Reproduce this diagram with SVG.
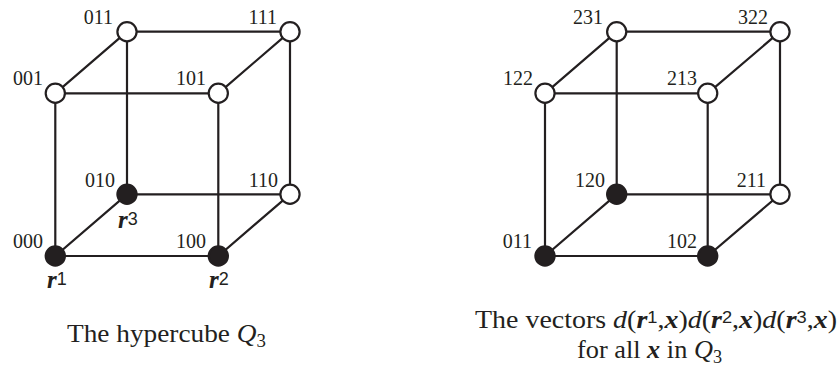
<svg xmlns="http://www.w3.org/2000/svg" width="839" height="369" viewBox="0 0 839 369">
<style>
.e{stroke:#231f20;stroke-width:2.2;fill:none}
.w{fill:#fff;stroke:#231f20;stroke-width:2.2}
.b{fill:#231f20;stroke:#231f20;stroke-width:2.2}
.l{font-family:"Liberation Serif","Times New Roman",serif;font-size:20px;fill:#231f20}
.r{font-family:"Liberation Serif","Times New Roman",serif;font-size:25px;font-weight:bold;font-style:italic;fill:#231f20}
.s{font-family:"Liberation Sans",Arial,sans-serif;font-size:18px;font-weight:normal;font-style:normal}
.c{font-family:"Liberation Serif","Times New Roman",serif;font-size:26px;fill:#231f20}
.i{font-style:italic}
.bi{font-style:italic;font-weight:bold}
.cs{font-family:"Liberation Sans",Arial,sans-serif;font-size:17px}
</style>
<defs>
<circle id="wn" r="9.6" class="w"/>
<circle id="bn" r="9.6" class="b"/>
</defs>
<g id="connectors">
<path class="e" d="M127,31.7H290M55.3,93.3H218.3M127,194.3H290M55.3,256H218.3M55.3,93.3V256M218.3,93.3V256M127,31.7V194.3M290,31.7V194.3M55.3,93.3L127,31.7M218.3,93.3L290,31.7M55.3,256L127,194.3M218.3,256L290,194.3"/>
<path class="e" d="M616.7,31.7H780M545,93.3H707.7M616.7,194.3H780M545,256H707.7M545,93.3V256M707.7,93.3V256M616.7,31.7V194.3M780,31.7V194.3M545,93.3L616.7,31.7M707.7,93.3L780,31.7M545,256L616.7,194.3M707.7,256L780,194.3"/>
</g>
<g id="n011"><use href="#wn" x="127" y="31.7"/><text class="l" x="113" y="24" text-anchor="end">011</text></g>
<g id="n111"><use href="#wn" x="290" y="31.7"/><text class="l" x="277" y="24" text-anchor="end">111</text></g>
<g id="n001"><use href="#wn" x="55.3" y="93.3"/><text class="l" x="43" y="85" text-anchor="end">001</text></g>
<g id="n101"><use href="#wn" x="218.3" y="93.3"/><text class="l" x="206" y="85" text-anchor="end">101</text></g>
<g id="n010"><use href="#bn" x="127" y="194.3"/><text class="l" x="115" y="187" text-anchor="end">010</text><text class="r" x="118" y="228">r<tspan class="s" dy="-3">3</tspan></text></g>
<g id="n110"><use href="#wn" x="290" y="194.3"/><text class="l" x="278" y="187" text-anchor="end">110</text></g>
<g id="n000"><use href="#bn" x="55.3" y="256"/><text class="l" x="43" y="248" text-anchor="end">000</text><text class="r" x="47" y="288">r<tspan class="s" dy="-3">1</tspan></text></g>
<g id="n100"><use href="#bn" x="218.3" y="256"/><text class="l" x="206" y="248" text-anchor="end">100</text><text class="r" x="209" y="288">r<tspan class="s" dy="-3">2</tspan></text></g>
<g id="m231"><use href="#wn" x="616.7" y="31.7"/><text class="l" x="603" y="24" text-anchor="end">231</text></g>
<g id="m322"><use href="#wn" x="780" y="31.7"/><text class="l" x="768" y="24" text-anchor="end">322</text></g>
<g id="m122"><use href="#wn" x="545" y="93.3"/><text class="l" x="533" y="85" text-anchor="end">122</text></g>
<g id="m213"><use href="#wn" x="707.7" y="93.3"/><text class="l" x="697" y="85" text-anchor="end">213</text></g>
<g id="m120"><use href="#bn" x="616.7" y="194.3"/><text class="l" x="605" y="187" text-anchor="end">120</text></g>
<g id="m211"><use href="#wn" x="780" y="194.3"/><text class="l" x="766" y="187" text-anchor="end">211</text></g>
<g id="m011"><use href="#bn" x="545" y="256"/><text class="l" x="532" y="248" text-anchor="end">011</text></g>
<g id="m102"><use href="#bn" x="707.7" y="256"/><text class="l" x="697" y="248" text-anchor="end">102</text></g>
<g id="captions">
<text class="c" x="67" y="342" textLength="199" lengthAdjust="spacingAndGlyphs">The hypercube <tspan class="i">Q</tspan><tspan font-size="18" dy="5">3</tspan></text>
<text class="c" x="475" y="328" textLength="362" lengthAdjust="spacingAndGlyphs">The vectors <tspan class="i">d</tspan>(<tspan class="bi">r</tspan><tspan class="cs" dy="-5">1</tspan><tspan dy="5">,</tspan><tspan class="bi">x</tspan>)<tspan class="i">d</tspan>(<tspan class="bi">r</tspan><tspan class="cs" dy="-5">2</tspan><tspan dy="5">,</tspan><tspan class="bi">x</tspan>)<tspan class="i">d</tspan>(<tspan class="bi">r</tspan><tspan class="cs" dy="-5">3</tspan><tspan dy="5">,</tspan><tspan class="bi">x</tspan>)</text>
<text class="c" x="577" y="358" textLength="145" lengthAdjust="spacingAndGlyphs">for all <tspan class="bi">x</tspan> in <tspan class="i">Q</tspan><tspan font-size="18" dy="5">3</tspan></text>
</g>
</svg>
